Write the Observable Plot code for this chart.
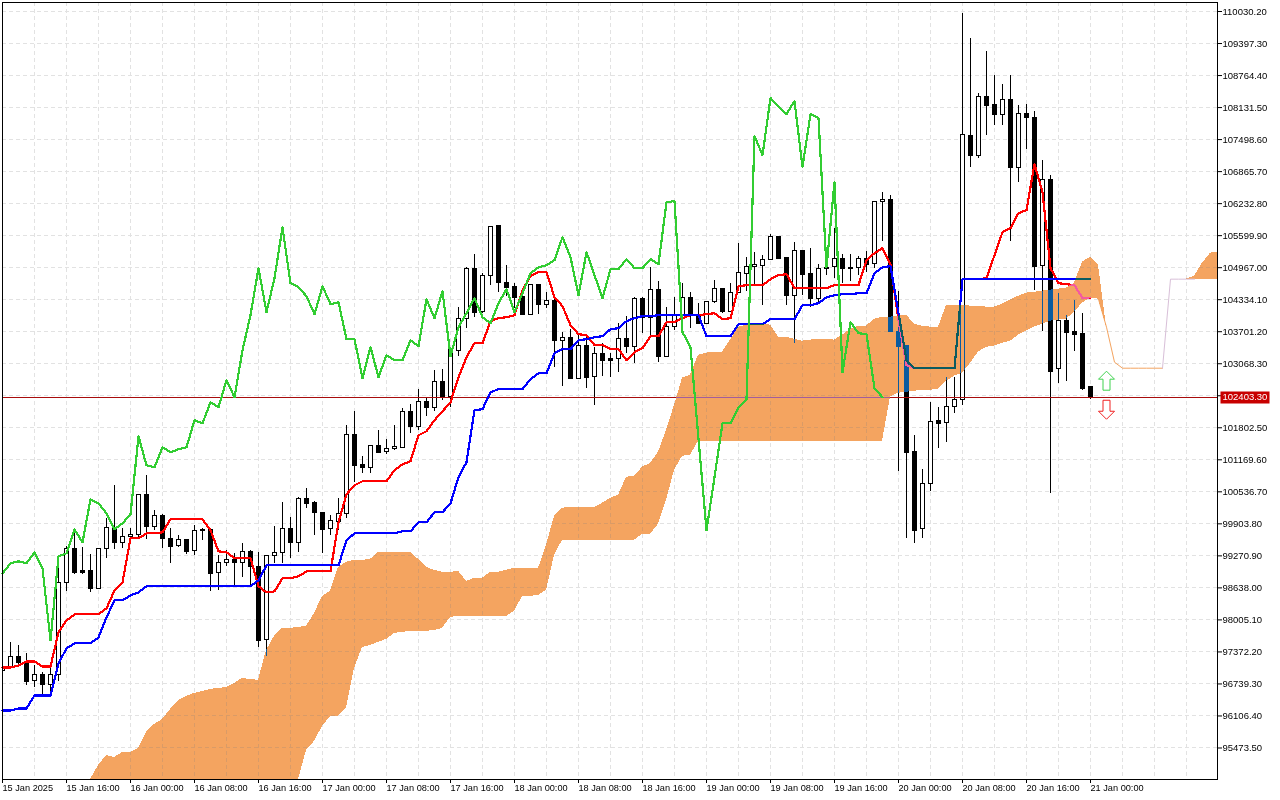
<!DOCTYPE html>
<html>
<head>
<meta charset="utf-8">
<style>html,body{margin:0;padding:0;background:#fff}svg{display:block}</style>
<script src="https://cdn.jsdelivr.net/npm/d3@7"></script>
<script src="https://cdn.jsdelivr.net/npm/@observablehq/plot@0.6"></script>
</head>
<body>
<div id="chart"></div>
<script>
const priceTicks = [110030.2,109397.3,108764.4,108131.5,107498.6,106865.7,106232.8,105599.9,104967.0,104334.1,103701.2,103068.3,102435.4,101802.5,101169.6,100536.7,99903.8,99270.9,98638.0,98005.1,97372.2,96739.3,96106.4,95473.5];
const timeTicks = [0,8,16,24,32,40,48,56,64,72,80,88,96,104,112,120,128,136];
const timeLabels = ["15 Jan 2025","15 Jan 16:00","16 Jan 00:00","16 Jan 08:00","16 Jan 16:00","17 Jan 00:00","17 Jan 08:00","17 Jan 16:00","18 Jan 00:00","18 Jan 08:00","18 Jan 16:00","19 Jan 00:00","19 Jan 08:00","19 Jan 16:00","20 Jan 00:00","20 Jan 08:00","20 Jan 16:00","21 Jan 00:00"];
const gridBars = [4,8,12,16,20,24,28,32,36,40,44,48,52,56,60,64,68,72,76,80,84,88,92,96,100,104,108,112,116,120,124,128,132,136,140,144,148];
const lastPrice = 102403.3;

const opens = [96987,97066,97264,97165,96789,96908,96710,96908,98727,99400,
98965,98965,98609,99400,99795,99519,99637,99677,100468,99835,
100053,99598,99459,99578,99360,99776,99776,98925,99123,99182,
99123,99341,99044,97600,99261,99321,99795,99519,100389,100310,
100112,99795,99934,100092,101655,101062,101002,101437,101319,101378,
101398,102110,101813,102307,102189,102703,102406,103316,103949,104937,
104088,104799,105788,104660,104581,104383,104028,104621,104226,104305,
103514,103573,102763,103415,102802,103257,103158,103158,103554,103395,
104344,103969,104522,103198,103791,104028,104364,104028,103850,104285,
104542,104088,104463,104838,104977,104997,105116,105570,105155,104403,
105293,104838,104344,104957,104977,105135,104957,104957,105135,105036,
106262,106302,103692,103415,101319,99795,100686,101932,101892,102208,
102347,107568,107172,108340,108181,107983,108280,106935,108003,107924,
104997,106698,102961,103910,103692,103652,102604];
const closes = [97066,97264,97145,96769,96908,96710,96908,98727,99400,98925,
98925,98609,99400,99815,99519,99637,99677,100468,99835,100053,
99598,99439,99578,99341,99756,99756,98906,99123,99182,99123,
99341,99044,97580,99261,99321,99795,99519,100389,100290,100112,
99776,99954,100092,101655,101042,101002,101437,101299,101378,101417,
102110,101813,102307,102189,102703,102406,103336,103949,104937,104068,
104799,105768,104660,104562,104364,104028,104621,104226,104305,103514,
103573,102763,103415,102783,103257,103119,103119,103554,103395,104344,
103969,104522,103198,103791,104028,104364,104028,103850,104285,104542,
104088,104463,104858,104977,105016,105116,105570,105135,104403,105293,
104819,104344,104937,104937,105135,104937,104937,105135,105016,106262,
106302,103692,103395,101299,99756,100686,101912,101872,102208,102347,
107588,107172,108340,108161,107983,108280,106935,108003,107924,104977,
106698,102901,103910,103672,103633,102565,102403.3];
const highs = [97125,97560,97501,97343,97105,96967,97066,99024,99459,99756,
99439,99301,99400,100013,100666,99815,99815,100488,100864,100171,
100092,99815,99677,99598,99875,99815,99815,99281,99380,99321,
99519,99380,99341,99281,99855,100329,100033,100429,100607,100349,
100112,100072,100409,101853,102129,101239,101457,101754,101576,101853,
102189,102268,102565,102406,102941,102961,103336,104187,104977,105234,
104858,105788,105788,105016,104660,104522,104621,104621,104482,104403,
103692,103751,103672,103593,103395,103475,103277,103870,104009,104383,
104383,104977,104700,104187,104383,104660,104482,104266,104285,104720,
104542,104660,105452,105175,105274,105214,105630,105590,105175,105471,
105313,105353,105036,105274,105748,105234,105234,105194,105293,106262,
106460,106401,104502,103415,101655,100982,102307,102208,102802,102802,
109981,109506,108419,109230,108775,108597,108775,108181,108201,108062,
107093,106797,104463,104028,104325,104068,102624];
const lows = [96947,97046,97066,96710,96670,96512,96552,96789,98569,98906,
98906,98549,98609,99222,99400,99420,99578,99598,99598,99776,
99420,99123,99439,99301,99281,99578,98569,98589,99064,98668,
98846,98688,97461,97283,99123,99123,99222,99341,100211,99677,
99321,99677,99776,100013,100725,100903,100903,101299,101279,101358,
101398,101694,101754,102031,102129,102347,102208,103217,103771,103989,
104068,104621,104482,104403,104167,104028,104028,104048,104167,102999,
102624,102763,102763,102585,102248,102822,102802,102901,103277,103079,
103672,103593,103099,103198,103732,103930,103771,103850,103850,104266,
104068,104088,104463,104502,104641,104226,105116,105135,104226,103475,
104423,104187,104266,104819,104759,104660,104700,104819,104878,104957,
105491,103692,100942,99617,99519,99617,100547,101398,101516,102090,
102248,106955,107133,107588,107786,107786,105491,106658,107311,104522,
103712,100508,102683,102723,103316,102545,102367];

const tenkan = [97066,97066,97105,97184,97184,97085,97085,97758,97995,98114,
98114,98114,98114,98233,98589,98747,99617,99617,99716,99716,
99736,99993,99993,99993,99993,99993,99776,99360,99341,99222,
99222,99222,98668,98549,98569,98826,98826,98866,98965,98965,
98965,98965,99934,100488,100666,100745,100745,100745,100745,100963,
101081,101141,101655,101734,101952,102129,102307,102802,103198,103475,
103475,103910,103969,103989,104028,104522,104799,104878,104878,104383,
104206,103831,103652,103633,103435,103435,103356,103356,103138,103297,
103376,103613,103613,103890,103890,103969,104028,104028,104048,104068,
103949,103969,104601,104621,104621,104621,104740,104819,104838,104562,
104562,104562,104562,104562,104621,104621,104621,104621,105116,105254,
105353,105036,103930,103040,102980,102980,102980,102980,102980,102980,
104740,104740,104740,104759,105214,105669,105748,106045,106104,107017,
106460,104957,104660,104641,104621,104364,104364];
const kijun = [96215,96215,96255,96255,96512,96512,96512,97145,97441,97541,
97541,97541,97659,98055,98391,98391,98490,98549,98668,98668,
98668,98668,98668,98668,98668,98668,98668,98668,98668,98668,
98668,98668,98786,99083,99083,99083,99083,99083,99083,99083,
99083,99083,99083,99578,99716,99716,99716,99716,99716,99716,
99756,99756,99934,99934,100132,100132,100310,100824,101121,102149,
102169,102505,102565,102565,102565,102565,102763,102881,102881,103277,
103356,103356,103534,103554,103593,103613,103751,103771,103910,103969,
104009,104009,104028,104028,104028,104028,104028,104028,103613,103613,
103613,103613,103850,103850,103850,103850,103949,103949,103949,103949,
104226,104226,104266,104383,104423,104443,104443,104463,104463,104858,
104977,104997,104068,103138,102980,102980,102980,102980,102980,102980,
104740,104740,104740,104740,104740,104740,104740,104740,104740,104740,
104740,104740,104740,104740,104740,104740,104740];
const chikou = [98925,99123,99162,99123,99341,99024,97600,99261,99321,99795,
99538,100389,100310,100112,99795,99914,100092,101635,101062,101022,
101417,101319,101378,101417,101952,101892,102307,102208,102743,102406,
103336,104028,104957,104088,104759,105768,104660,104581,104403,104048,
104601,104246,104285,103554,103554,102783,103395,102802,103237,103138,
103138,103534,103415,104344,103969,104502,103217,103791,104068,104364,
103989,103870,104266,104542,104088,104463,104858,104977,105016,105116,
105570,105175,104423,105274,104819,104364,104937,104937,105135,104957,
104957,105135,105036,106262,106282,103692,103395,101585,99776,100824,
101892,101892,102208,102367,107568,107192,108320,108161,108003,108260,
106955,108003,107924,104977,106658,102901,103890,103672,103652,102585,
102406];

const cloudStart = 11;
const spanUpper = [94633,95127,95325,95285,95384,95384,95464,95780,95938,96037,96235,96413,96492,96552,96591,96631,96650,96670,96749,96848,96828,96809,
97402,97679,97837,97837,97857,97877,98134,98470,98569,99044,99143,99182,99182,99202,99341,99341,99341,99341,99341,99202,99044,98984,98945,98945,98965,98767,98826,98826,98945,98945,98984,99024,99024,99024,99024,
99479,100053,100211,100231,100231,100231,100231,100310,100409,100468,100824,100844,101022,101101,101319,101754,102248,102783,102842,103237,103277,103297,103297,103534,103791,103831,103850,103850,103831,103593,103593,103554,103514,103534,103554,103554,103534,103633,103751,103810,103810,103949,103989,103989,
104009,104028,103850,103810,103791,103791,104226,104226,104226,104206,104206,104187,104187,104246,104325,104403,104463,104482,104502,104522,104542,104562,104660,105076,105175,105016,103791,103099,
102980,102980,102980,102980,102980,102980,104740,104740,104740,104799,105056,105254,105274];
const spanLower = [94500,94500,94500,94500,94500,94500,94500,94500,94500,94500,94500,94500,94500,94500,94500,94500,94500,94500,94500,94500,94500,94500,
94500,94500,94500,94500,94534,95425,95603,95899,96097,96097,96255,97046,97461,97501,97560,97620,97738,97758,97778,97778,97778,97798,97837,98055,98075,98075,98075,98075,98075,98075,98075,98173,98470,98470,98490,
98589,99281,99578,99578,99578,99578,99578,99578,99578,99578,99578,99578,99697,99697,99895,100369,100963,101239,101259,
101536,101536,101536,101536,101536,101536,101536,101536,101536,101536,101536,101536,101536,101536,101536,101536,101536,101536,101536,101536,101536,101536,101536,101536,
102406,102485,102505,102525,102545,102545,102565,102723,102822,102881,103079,103297,103395,103415,103475,103514,103633,103712,103791,103850,103910,103930,103949,104088,104266,104364,104344,103791,103099,
102980,102980,102980,102980,102980,102980,104740,104740,104740,104740,104740,104740,104740];

const arrowBar = 138;
const arrowUpPrice = 102733;
const arrowDownPrice = 102159;

const candles = opens.map((o, i) => ({i, o, c: closes[i], h: highs[i], l: lows[i]}));
const series = a => a.map((v, i) => ({i, v}));
const cloud = spanUpper.map((u, k) => ({i: k + cloudStart, u, d: spanLower[k]}));
const cloudNow = cloud.filter(d => d.i <= 138);
const cloudLater = cloud.filter(d => d.i >= 148);
const thinOrange = cloud.filter(d => d.i >= 137 && d.i <= 145);
const thinThistle = cloud.filter(d => d.i >= 145 && d.i <= 149);

const upArrow = {draw(ctx) {
  ctx.moveTo(0,-9.5); ctx.lineTo(8,-1.5); ctx.lineTo(3.5,-1.5); ctx.lineTo(3.5,9.5);
  ctx.lineTo(-3.5,9.5); ctx.lineTo(-3.5,-1.5); ctx.lineTo(-8,-1.5); ctx.closePath();
}};
const downArrow = {draw(ctx) {
  ctx.moveTo(0,9.5); ctx.lineTo(8,1.5); ctx.lineTo(3.5,1.5); ctx.lineTo(3.5,-9.5);
  ctx.lineTo(-3.5,-9.5); ctx.lineTo(-3.5,1.5); ctx.lineTo(-8,1.5); ctx.closePath();
}};
const priceTag = {draw(ctx) { ctx.rect(3,-6,49,12); }};

const crisp = {shapeRendering: "crispEdges"};
const chart = Plot.plot({
  width: 1280, height: 800,
  marginLeft: 2, marginRight: 63, marginTop: 2, marginBottom: 21,
  style: {fontFamily: "'Liberation Sans', sans-serif", fontSize: "10px", background: "#fff", color: "#000"},
  x: {type: "linear", domain: [0, 151.875], clamp: true},
  y: {type: "linear", domain: [94850.6, 110208.2], clamp: true},
  marks: [
    Plot.frame({fill: "#fff", stroke: "none"}),
    Plot.gridY(priceTicks, {stroke: "#e2e2e2", strokeOpacity: 1, strokeDasharray: "4,3", ...crisp}),
    Plot.gridX(gridBars, {stroke: "#e2e2e2", strokeOpacity: 1, strokeDasharray: "4,3", ...crisp}),
    Plot.ruleX(candles, {x: "i", y1: "l", y2: "h", stroke: "#000", strokeWidth: 1, ...crisp}),
    Plot.rect(candles, {x1: d => d.i - 0.25, x2: d => d.i + 0.25, y1: "o", y2: "c",
      fill: d => d.c < d.o ? "#000" : "#fff", stroke: "#000", strokeWidth: 1, ...crisp}),
    Plot.ruleY([lastPrice], {stroke: "#a80c0c", strokeWidth: 1, ...crisp}),
    Plot.line(series(tenkan), {x: "i", y: "v", stroke: "#ff0000", strokeWidth: 2.2, ...crisp}),
    Plot.line(series(kijun), {x: "i", y: "v", stroke: "#0000ff", strokeWidth: 2.2, ...crisp}),
    Plot.areaY(cloudNow, {x: "i", y1: "u", y2: "d", fill: "#0B5B9F", mixBlendMode: "exclusion", ...crisp}),
    Plot.areaY(cloudLater, {x: "i", y1: "u", y2: "d", fill: "#0B5B9F", mixBlendMode: "exclusion", ...crisp}),
    Plot.line(thinOrange, {x: "i", y: "d", stroke: "#F4A460", strokeWidth: 1}),
    Plot.line(thinThistle, {x: "i", y: "d", stroke: "#D8BFD8", strokeWidth: 1}),
    Plot.line(series(chikou), {x: "i", y: "v", stroke: "#32CD32", strokeWidth: 2.2, ...crisp}),
    Plot.dot([arrowUpPrice], {x: () => arrowBar, y: d => d, symbol: upArrow, fill: "#fff", stroke: "#3fd24f", strokeWidth: 1}),
    Plot.dot([arrowDownPrice], {x: () => arrowBar, y: d => d, symbol: downArrow, fill: "#fff", stroke: "#f02020", strokeWidth: 1}),
    Plot.frame({stroke: "#000", strokeWidth: 1, ...crisp}),
    Plot.axisY(priceTicks, {anchor: "right", label: null, tickSize: 4, tickPadding: 1, tickFormat: d => d.toFixed(2), fontSize: 9.5, stroke: "#000"}),
    Plot.axisX(timeTicks, {anchor: "bottom", label: null, tickSize: 4, tickPadding: 1, tickFormat: i => timeLabels[timeTicks.indexOf(i)], textAnchor: "start", fontSize: 9.2, stroke: "#000"}),
    Plot.dot([lastPrice], {y: d => d, frameAnchor: "right", symbol: priceTag, fill: "#c80000", stroke: "none"}),
    Plot.text([lastPrice], {y: d => d, frameAnchor: "right", dx: 5, textAnchor: "start", text: d => d.toFixed(2), fill: "#fff", fontSize: 9.5})
  ]
});
document.getElementById("chart").append(chart);
</script>
</body>
</html>
